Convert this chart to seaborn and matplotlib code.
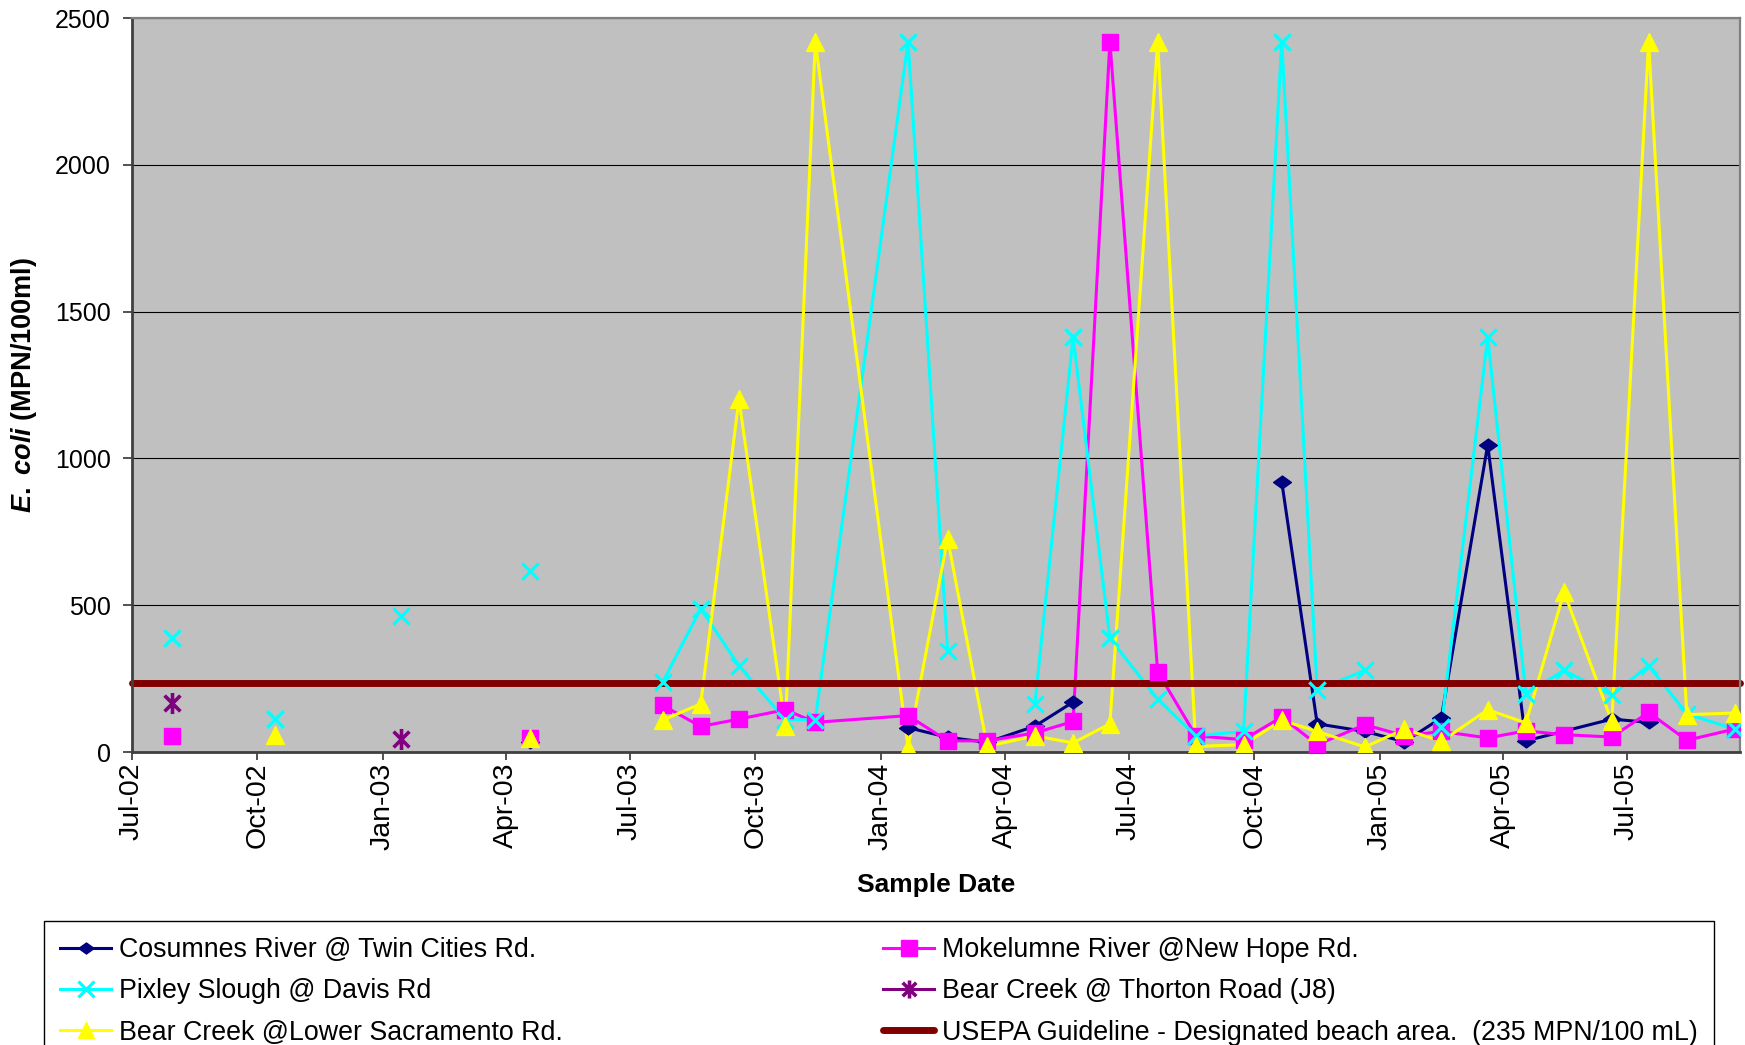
import matplotlib
matplotlib.use("Agg")
import matplotlib.pyplot as plt
import matplotlib.dates as mdates
from matplotlib.lines import Line2D
from matplotlib.path import Path
import pandas as pd
import seaborn as sns

# ---------------- data ----------------
DATES = ["2002-07-30", "2002-10-14", "2003-01-14", "2003-04-19",
         "2003-07-25", "2003-08-22", "2003-09-19", "2003-10-23", "2003-11-14",
         "2004-01-21", "2004-02-19", "2004-03-19", "2004-04-23", "2004-05-21",
         "2004-06-17", "2004-07-22", "2004-08-19", "2004-09-23", "2004-10-21",
         "2004-11-16", "2004-12-21", "2005-01-19", "2005-02-15", "2005-03-21",
         "2005-04-18", "2005-05-16", "2005-06-20", "2005-07-17", "2005-08-14",
         "2005-09-18"]

COSUMNES = [None, None, None, 35, None, None, None, None, None,
            83, 50, 33, 88, 170, None, None, None, None, 920.8,
            96, 70, 35, 116, 1046, 38, None, 112, 101, None, None]
MOKELUMNE = [55, None, None, 48, 159, 87, 112, 144, 101,
             124, 38, 38, 65, 104, 2419.6, 274, 55, 42, 119,
             25, 93, 55, 70, 48, 72, 59, 51, 135, 40, 78]
PIXLEY = [388, 112, 462, 615, 237, 488, 294, 110, 110,
          2419.6, 345, None, 164, 1413.6, 387, 180, 55, 70, 2419.6,
          211, 278, None, 85, 1413.6, 199, 278, 194, 294, 130, 78]
BEAR_J8 = [167, None, 45, None] + [None] * 26
BEAR_LOWER = [None, 59, None, 48, 108, 164, 1202, 87, 2419.6,
              15, 727, 19, 55, 31, 96, 2419.6, 19, 25, 108,
              70, 17, 78, 36, 144, 99, 545, 104, 2419.6, 127, 133]
USEPA = 235

N_EARLY = 4                       # first samples shown as isolated markers
BREAKS = {"Cosumnes River @ Twin Cities Rd.": [13],
          "Pixley Slough @ Davis Rd": [10, 20]}

LABELS = ["Cosumnes River @ Twin Cities Rd.", "Mokelumne River @New Hope Rd.",
          "Pixley Slough @ Davis Rd", "Bear Creek @ Thorton Road (J8)",
          "Bear Creek @Lower Sacramento Rd."]
USEPA_LABEL = "USEPA Guideline - Designated beach area.  (235 MPN/100 mL)"
VALUES = [COSUMNES, MOKELUMNE, PIXLEY, BEAR_J8, BEAR_LOWER]

# ---------------- styles ----------------
COLORS = ["#000080", "#FF00FF", "#00FFFF", "#800080", "#FFFF00"]
diamond = Path([(0, 0.72), (1, 0), (0, -0.72), (-1, 0), (0, 0.72)],
               [Path.MOVETO, Path.LINETO, Path.LINETO, Path.LINETO, Path.CLOSEPOLY])
asterisk = Path([(-0.75, -0.75), (0.75, 0.75), (-0.75, 0.75), (0.75, -0.75), (0, -1), (0, 1)],
                [Path.MOVETO, Path.LINETO] * 3)
MARKERS = [diamond, "s", "x", asterisk, "^"]
SIZES = [165, 140, 140, 230, 165]
UNFILLED = [False, False, True, False, False]
MWIDTH = [1, 1, 2.3, 2.6, 1]

plt.rcParams["font.family"] = ["Liberation Sans", "DejaVu Sans"]
plt.rcParams["mathtext.fontset"] = "custom"
plt.rcParams["mathtext.it"] = "Liberation Sans:italic:bold"
plt.rcParams["mathtext.rm"] = "Liberation Sans:bold"
plt.rcParams["mathtext.bf"] = "Liberation Sans:bold"

W, H = 1745, 1045
fig = plt.figure(figsize=(W / 100, H / 100), dpi=100)
fig.patch.set_facecolor("white")
ax = fig.add_axes([132 / W, 1 - 752 / H, (1740 - 132) / W, (752 - 18) / H])
ax.set_facecolor("#C0C0C0")

dates = pd.to_datetime(DATES)

for k, (lab, vals) in enumerate(zip(LABELS, VALUES)):
    rows = []
    brk = BREAKS.get(lab, [])
    for i, (d, v) in enumerate(zip(dates, vals)):
        if v is None:
            continue
        seg = f"e{i}" if i < N_EARLY else f"s{sum(1 for b in brk if b < i)}"
        rows.append({"date": d, "value": v, "seg": seg})
    df = pd.DataFrame(rows)
    line_df = df[~df["seg"].str.startswith("e")]
    if len(line_df) > 1:
        sns.lineplot(data=line_df, x="date", y="value", units="seg", estimator=None,
                     color=COLORS[k], linewidth=2.2, ax=ax, legend=False, zorder=2 + k * 0.01)
    kw = dict(color=COLORS[k], marker=MARKERS[k], s=SIZES[k], linewidth=MWIDTH[k],
              ax=ax, legend=False, zorder=3 + k * 0.01)
    if not UNFILLED[k]:
        kw["edgecolor"] = COLORS[k]
    sns.scatterplot(data=df, x="date", y="value", **kw)

ax.axhline(USEPA, color="#800000", lw=5, zorder=2.5, solid_capstyle="round", clip_on=False)

# axes
ax.set_ylim(0, 2500)
ax.set_yticks(range(0, 2501, 500))
ax.set_xlim(pd.Timestamp("2002-07-01"), pd.Timestamp("2005-09-22"))
ax.xaxis.set_major_locator(mdates.MonthLocator(bymonth=[1, 4, 7, 10]))
ax.xaxis.set_major_formatter(mdates.DateFormatter("%b-%y"))
ax.yaxis.grid(True, color="black", lw=0.8)
ax.xaxis.grid(False)
ax.set_axisbelow(True)
ax.set_xlabel("")
ax.set_ylabel("")
ax.tick_params(axis="y", labelsize=18, length=6.3, width=1.2, pad=9, color="#333333")
ax.tick_params(axis="x", labelsize=20.5, length=6, width=1.2, pad=1.5, labelrotation=90,
               color="#333333")
for s in ["top", "right"]:
    ax.spines[s].set_color("#808080")
    ax.spines[s].set_linewidth(1.6)
for s in ["left", "bottom"]:
    ax.spines[s].set_color("#404040")
    ax.spines[s].set_linewidth(2)

fig.text(24.5 / W, 1 - 385 / H, r"$\it{E.\ coli}$ (MPN/100ml)", rotation=90,
         ha="center", va="center", fontsize=19.5, fontweight="bold")
fig.text(936 / W, 1 - 885 / H, "Sample Date", ha="center", va="center",
         fontsize=19, fontweight="bold")

# legend
handles = []
for k in range(5):
    mk = MARKERS[k]
    handles.append(Line2D([], [], color=COLORS[k], lw=2.2, marker=mk,
                          markersize=11 if k != 3 else 13,
                          markeredgewidth=MWIDTH[k] if UNFILLED[k] or k == 3 else 1,
                          markerfacecolor=COLORS[k], markeredgecolor=COLORS[k]))
red_handle = Line2D([], [], color="#800000", lw=5, solid_capstyle="round")
order = [0, 2, 4, 1, 3]
leg_handles = [handles[i] for i in order] + [red_handle]
leg_labels = [LABELS[i] for i in order] + [USEPA_LABEL]
leg = fig.legend(leg_handles, leg_labels, loc="upper left", ncol=2, mode="expand",
                 bbox_to_anchor=(44 / W, 0.0, 1670 / W, 1 - 921 / H),
                 borderaxespad=0, fontsize=19.3, frameon=True, fancybox=False,
                 edgecolor="black", framealpha=1, borderpad=0.6, handlelength=1.9,
                 handletextpad=0.3, labelspacing=0.57)
leg.get_frame().set_linewidth(1.0)

fig.savefig("out.png", dpi=100)
